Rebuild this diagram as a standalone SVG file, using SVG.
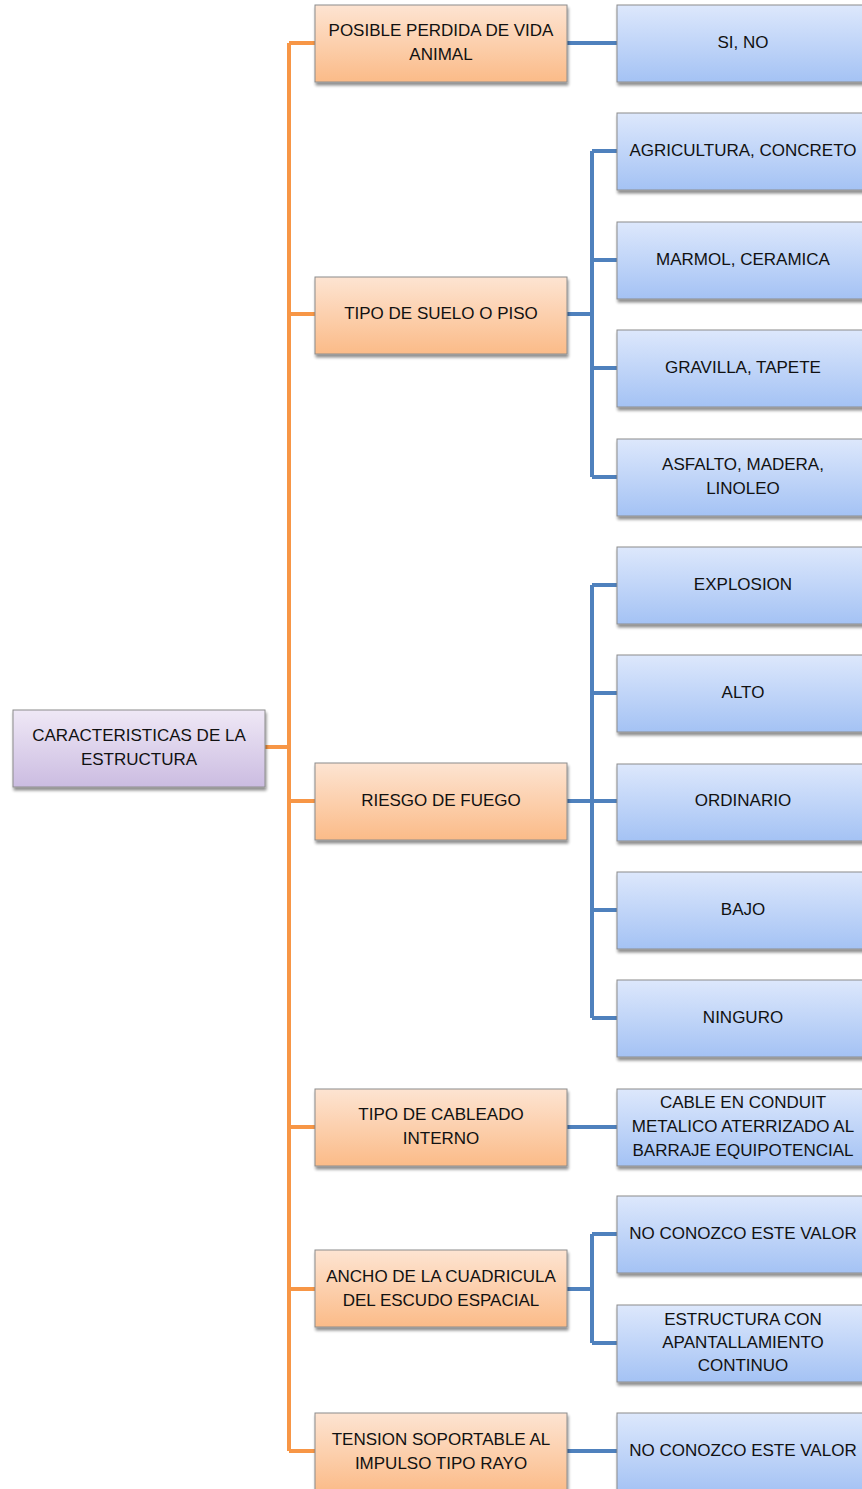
<svg xmlns="http://www.w3.org/2000/svg" width="862" height="1489" viewBox="0 0 862 1489">
<style>
text{font-family:"Liberation Sans",Arial,sans-serif;font-size:17px;fill:#111;text-anchor:middle;dominant-baseline:central}
.box{stroke:#8c8c8c;stroke-width:1;filter:url(#sh)}
.r{fill:url(#gp)}.o{fill:url(#go)}.b{fill:url(#gb)}
.co{fill:none;stroke:#f79646;stroke-width:4}
.cb{fill:none;stroke:#4f81bd;stroke-width:4}
</style>
<defs>
<linearGradient id="gp" x1="0" y1="0" x2="0" y2="1"><stop offset="0" stop-color="#efe8f6"/><stop offset="1" stop-color="#cbbce1"/></linearGradient>
<linearGradient id="go" x1="0" y1="0" x2="0" y2="1"><stop offset="0" stop-color="#fde4d2"/><stop offset="1" stop-color="#fbbb88"/></linearGradient>
<linearGradient id="gb" x1="0" y1="0" x2="0" y2="1"><stop offset="0" stop-color="#dde8fc"/><stop offset="1" stop-color="#a4c2f4"/></linearGradient>
<filter id="sh" x="-10%" y="-10%" width="130%" height="140%"><feGaussianBlur in="SourceAlpha" stdDeviation="1.5"/><feOffset dx="1" dy="2.5"/><feComponentTransfer><feFuncA type="linear" slope="0.45"/></feComponentTransfer><feMerge><feMergeNode/><feMergeNode in="SourceGraphic"/></feMerge></filter>
</defs>
<g id="connectors">
<path class="co" d="M265 747H289M289 43V1451M289 43H315M289 314H315M289 801H315M289 1127H315M289 1289H315M289 1451H315"/>
<path class="cb" d="M567 43H617"/>
<path class="cb" d="M567 314H592M592 151V477M592 151H617M592 260H617M592 368H617M592 477H617"/>
<path class="cb" d="M567 801H592M592 585V1018M592 585H617M592 693H617M592 801H617M592 910H617M592 1018H617"/>
<path class="cb" d="M567 1127H617"/>
<path class="cb" d="M567 1289H592M592 1234V1343M592 1234H617M592 1343H617"/>
<path class="cb" d="M567 1451H617"/>
</g>
<g id="root"><rect class="box r" x="13" y="710" width="252" height="77"/><text x="139" y="735">CARACTERISTICAS DE LA</text><text x="139" y="759">ESTRUCTURA</text></g>
<g id="n1"><rect class="box o" x="315" y="5" width="252" height="77"/><text x="441" y="30">POSIBLE PERDIDA DE VIDA</text><text x="441" y="54">ANIMAL</text></g>
<g id="n2"><rect class="box o" x="315" y="277" width="252" height="77"/><text x="441" y="313">TIPO DE SUELO O PISO</text></g>
<g id="n3"><rect class="box o" x="315" y="763" width="252" height="77"/><text x="441" y="800">RIESGO DE FUEGO</text></g>
<g id="n4"><rect class="box o" x="315" y="1089" width="252" height="77"/><text x="441" y="1114">TIPO DE CABLEADO</text><text x="441" y="1138">INTERNO</text></g>
<g id="n5"><rect class="box o" x="315" y="1250" width="252" height="77"/><text x="441" y="1276">ANCHO DE LA CUADRICULA</text><text x="441" y="1300">DEL ESCUDO ESPACIAL</text></g>
<g id="n6"><rect class="box o" x="315" y="1413" width="252" height="80"/><text x="441" y="1439">TENSION SOPORTABLE AL</text><text x="441" y="1463">IMPULSO TIPO RAYO</text></g>
<g id="l1"><rect class="box b" x="617" y="5" width="252" height="77"/><text x="743" y="42">SI, NO</text></g>
<g id="l2"><rect class="box b" x="617" y="113" width="252" height="77"/><text x="743" y="150">AGRICULTURA, CONCRETO</text></g>
<g id="l3"><rect class="box b" x="617" y="222" width="252" height="77"/><text x="743" y="259">MARMOL, CERAMICA</text></g>
<g id="l4"><rect class="box b" x="617" y="330" width="252" height="77"/><text x="743" y="367">GRAVILLA, TAPETE</text></g>
<g id="l5"><rect class="box b" x="617" y="439" width="252" height="77"/><text x="743" y="464">ASFALTO, MADERA,</text><text x="743" y="488">LINOLEO</text></g>
<g id="l6"><rect class="box b" x="617" y="547" width="252" height="77"/><text x="743" y="584">EXPLOSION</text></g>
<g id="l7"><rect class="box b" x="617" y="655" width="252" height="77"/><text x="743" y="692">ALTO</text></g>
<g id="l8"><rect class="box b" x="617" y="764" width="252" height="77"/><text x="743" y="800">ORDINARIO</text></g>
<g id="l9"><rect class="box b" x="617" y="872" width="252" height="77"/><text x="743" y="909">BAJO</text></g>
<g id="l10"><rect class="box b" x="617" y="980" width="252" height="77"/><text x="743" y="1017">NINGURO</text></g>
<g id="l11"><rect class="box b" x="617" y="1089" width="252" height="77"/><text x="743" y="1102">CABLE EN CONDUIT</text><text x="743" y="1126">METALICO ATERRIZADO AL</text><text x="743" y="1150">BARRAJE EQUIPOTENCIAL</text></g>
<g id="l12"><rect class="box b" x="617" y="1196" width="252" height="77"/><text x="743" y="1233">NO CONOZCO ESTE VALOR</text></g>
<g id="l13"><rect class="box b" x="617" y="1305" width="252" height="77"/><text x="743" y="1319">ESTRUCTURA CON</text><text x="743" y="1342">APANTALLAMIENTO</text><text x="743" y="1365">CONTINUO</text></g>
<g id="l14"><rect class="box b" x="617" y="1413" width="252" height="80"/><text x="743" y="1450">NO CONOZCO ESTE VALOR</text></g>
</svg>
